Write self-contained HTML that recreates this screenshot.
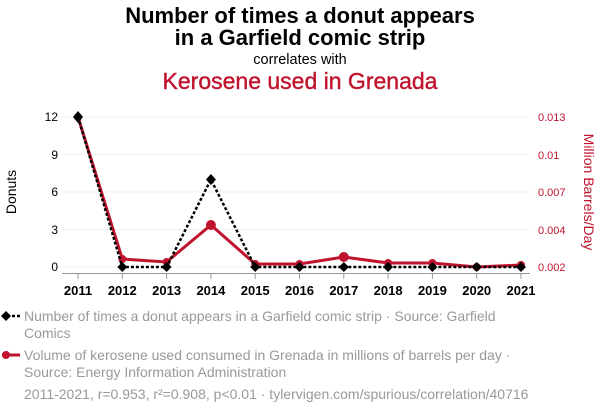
<!DOCTYPE html>
<html><head><meta charset="utf-8"><style>
body{margin:0;width:600px;height:414px;background:#fff;font-family:"Liberation Sans",sans-serif;overflow:hidden}
</style></head><body>
<svg width="600" height="414" xmlns="http://www.w3.org/2000/svg" font-family="Liberation Sans, sans-serif">
<text x="300" y="23" text-anchor="middle" font-size="22" font-weight="bold">Number of times a donut appears</text>
<text x="300" y="45" text-anchor="middle" font-size="22" font-weight="bold">in a Garfield comic strip</text>
<text x="300" y="64" text-anchor="middle" font-size="14.5">correlates with</text>
<text x="300" y="89" text-anchor="middle" font-size="23" fill="#c0142e" stroke="#c0142e" stroke-width="0.4">Kerosene used in Grenada</text>
<g stroke="#f0f0f0" stroke-width="1">
<line x1="62" x2="530" y1="117" y2="117"/><line x1="62" x2="530" y1="154.5" y2="154.5"/><line x1="62" x2="530" y1="192" y2="192"/><line x1="62" x2="530" y1="229.5" y2="229.5"/><line x1="62" x2="530" y1="267" y2="267"/>
</g>
<line x1="62" x2="530" y1="273.5" y2="273.5" stroke="#999"/>
<g stroke="#999"><line x1="78" x2="78" y1="273" y2="279"/><line x1="122.3" x2="122.3" y1="273" y2="279"/><line x1="166.6" x2="166.6" y1="273" y2="279"/><line x1="210.9" x2="210.9" y1="273" y2="279"/><line x1="255.2" x2="255.2" y1="273" y2="279"/><line x1="299.5" x2="299.5" y1="273" y2="279"/><line x1="343.8" x2="343.8" y1="273" y2="279"/><line x1="388.1" x2="388.1" y1="273" y2="279"/><line x1="432.4" x2="432.4" y1="273" y2="279"/><line x1="476.7" x2="476.7" y1="273" y2="279"/><line x1="521" x2="521" y1="273" y2="279"/></g>
<g font-size="13" font-weight="bold" text-anchor="middle">
<text x="78" y="295">2011</text><text x="122.3" y="295">2012</text><text x="166.6" y="295">2013</text><text x="210.9" y="295">2014</text><text x="255.2" y="295">2015</text><text x="299.5" y="295">2016</text><text x="343.8" y="295">2017</text><text x="388.1" y="295">2018</text><text x="432.4" y="295">2019</text><text x="476.7" y="295">2020</text><text x="521" y="295">2021</text>
</g>
<g font-size="12" text-anchor="end"><text x="58" y="121">12</text><text x="58" y="159">9</text><text x="58" y="196">6</text><text x="58" y="234">3</text><text x="58" y="271">0</text></g>
<g font-size="11" fill="#c0142e"><text x="538" y="121">0.013</text><text x="538" y="159">0.01</text><text x="538" y="196">0.007</text><text x="538" y="234">0.004</text><text x="538" y="271">0.002</text></g>
<text transform="translate(16,192) rotate(-90)" text-anchor="middle" font-size="14">Donuts</text>
<text transform="translate(584,192) rotate(90)" text-anchor="middle" font-size="14" fill="#c0142e">Million Barrels/Day</text>
<polyline fill="none" stroke="#c0142e" stroke-width="3" points="78,117 122.3,259 166.6,262 210.9,225 255.2,264 299.5,264 343.8,257 388.1,263 432.4,263 476.7,267 521,265"/>
<g fill="#c0142e"><circle cx="78" cy="117" r="4"/><circle cx="122.3" cy="259" r="4"/><circle cx="166.6" cy="262" r="4"/><circle cx="210.9" cy="225" r="5"/><circle cx="255.2" cy="264" r="4"/><circle cx="299.5" cy="264" r="4"/><circle cx="343.8" cy="257" r="5"/><circle cx="388.1" cy="263" r="4"/><circle cx="432.4" cy="263" r="4"/><circle cx="476.7" cy="267" r="4"/><circle cx="521" cy="265" r="4"/></g>
<polyline fill="none" stroke="#000" stroke-width="2.5" stroke-dasharray="3,2" points="78,117 122.3,267 166.6,267 210.9,179.5 255.2,267 299.5,267 343.8,267 388.1,267 432.4,267 476.7,267 521,267"/>
<g fill="#000">
<path d="M78,111 l5,6 -5,6 -5,-6z"/><path d="M122.3,262 l5,5 -5,5 -5,-5z"/><path d="M166.6,262 l5,5 -5,5 -5,-5z"/><path d="M210.9,174 l5,5.5 -5,5.5 -5,-5.5z"/><path d="M255.2,262 l5,5 -5,5 -5,-5z"/><path d="M299.5,262 l5,5 -5,5 -5,-5z"/><path d="M343.8,262 l5,5 -5,5 -5,-5z"/><path d="M388.1,262 l5,5 -5,5 -5,-5z"/><path d="M432.4,262 l5,5 -5,5 -5,-5z"/><path d="M476.7,262 l5,5 -5,5 -5,-5z"/><path d="M521,262 l5,5 -5,5 -5,-5z"/>
</g>
<line x1="2" x2="20" y1="316" y2="316" stroke="#000" stroke-width="2.5" stroke-dasharray="3,2"/>
<path d="M6,311 l5,5 -5,5 -5,-5z"/>
<line x1="2" x2="20" y1="355" y2="355" stroke="#c0142e" stroke-width="3"/>
<circle cx="6" cy="355" r="4" fill="#c0142e"/>
<g font-size="14" fill="#999">
<text x="24" y="321">Number of times a donut appears in a Garfield comic strip · Source: Garfield</text>
<text x="24" y="338">Comics</text>
<text x="24" y="360">Volume of kerosene used consumed in Grenada in millions of barrels per day ·</text>
<text x="24" y="377">Source: Energy Information Administration</text>
<text x="24" y="399">2011-2021, r=0.953, r²=0.908, p&lt;0.01 · tylervigen.com/spurious/correlation/40716</text>
</g>
</svg>
</body></html>
